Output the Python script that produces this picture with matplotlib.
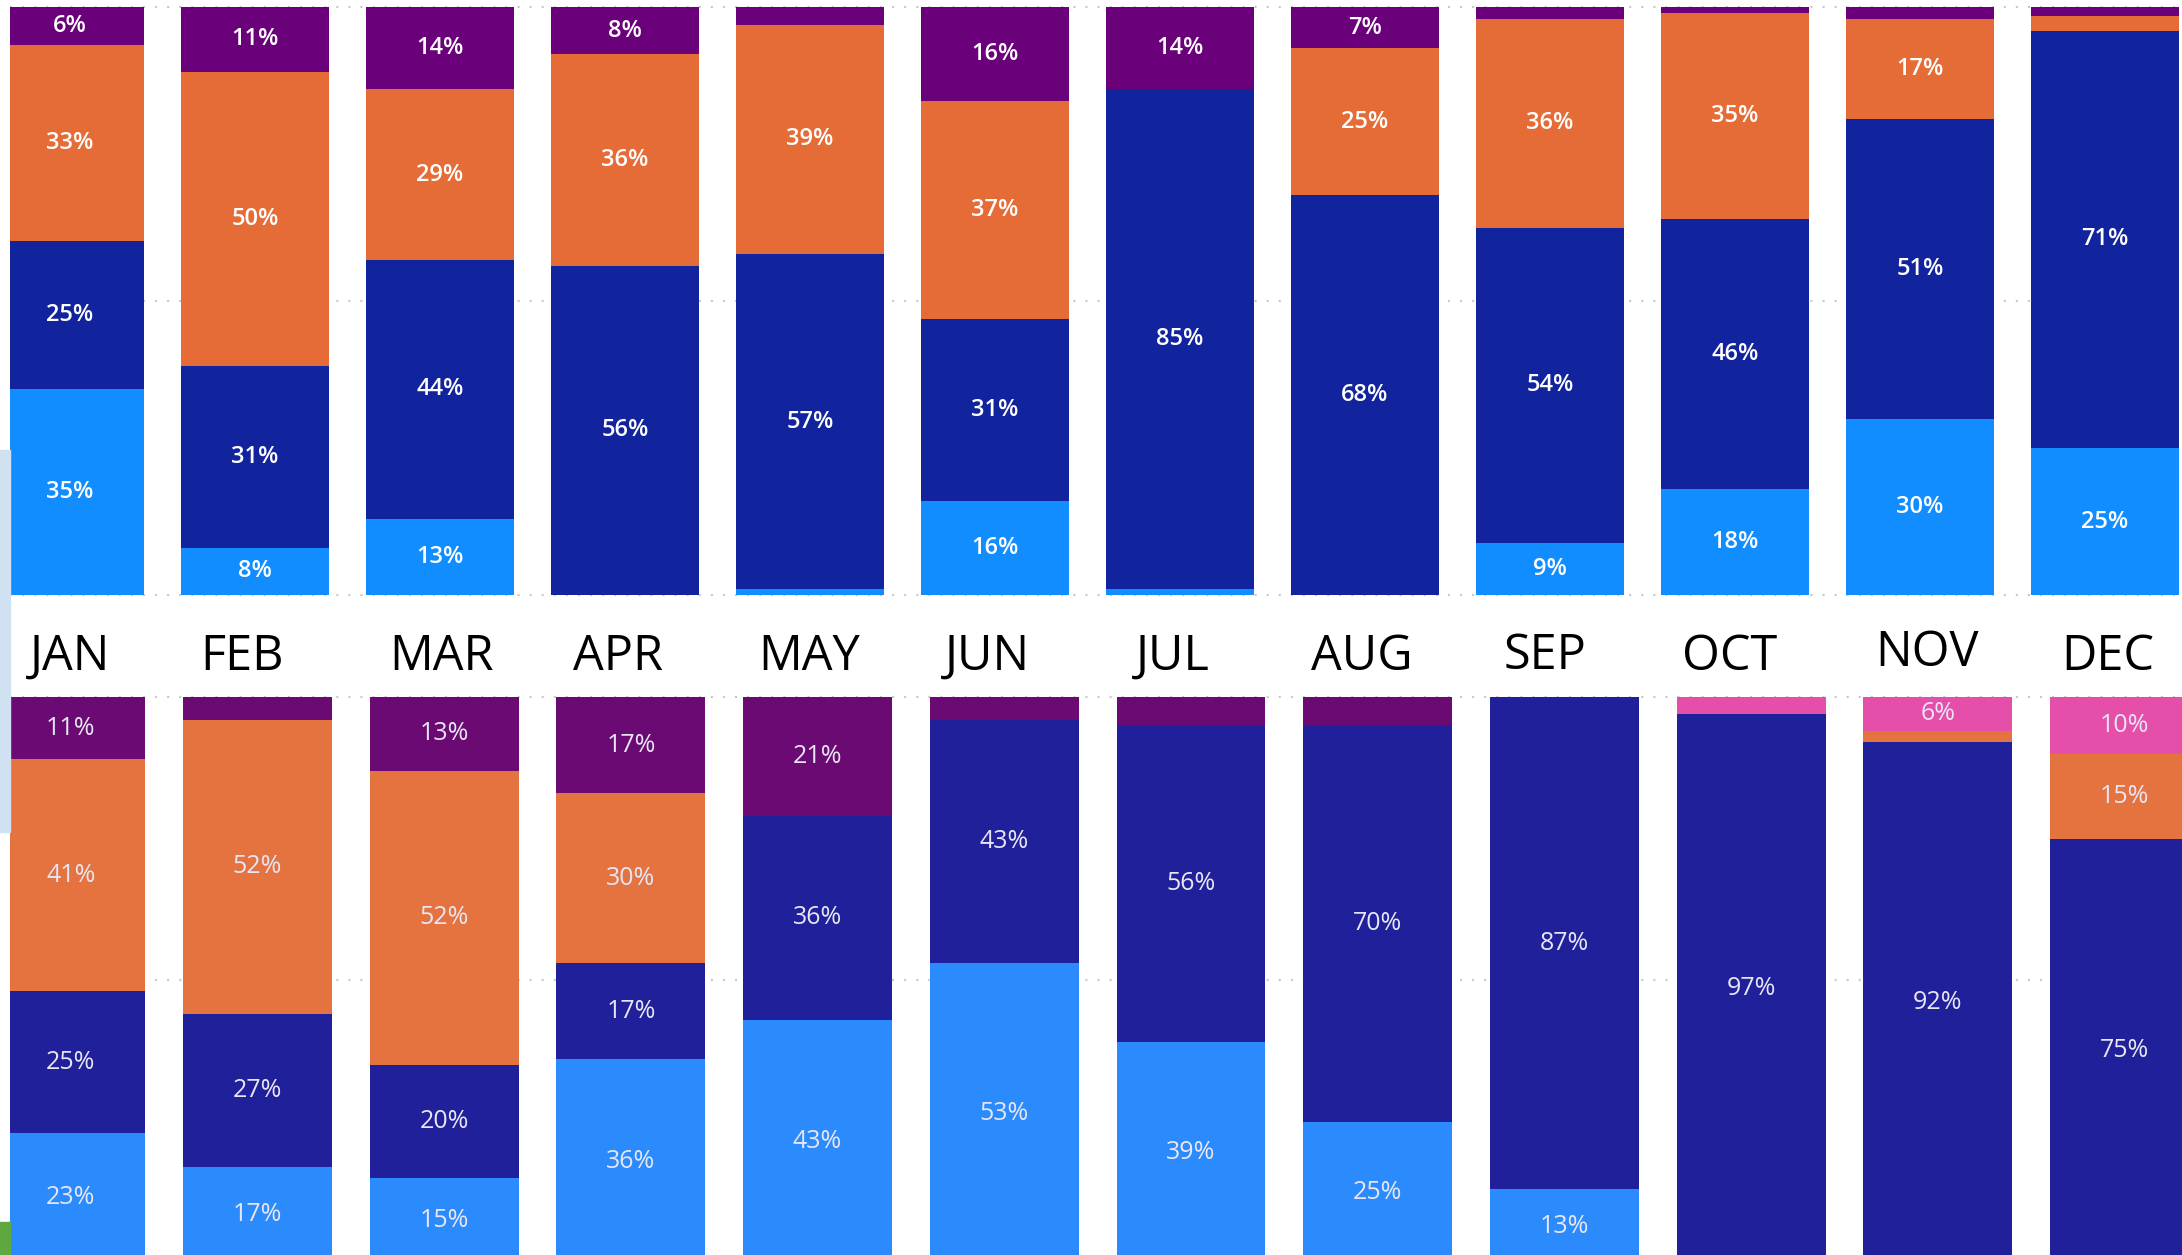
import matplotlib
matplotlib.use('Agg')
import matplotlib.pyplot as plt
import numpy as np
from matplotlib.patches import Rectangle
from matplotlib.transforms import blended_transform_factory, offset_copy

plt.rcParams['font.family'] = ['Open Sans', 'DejaVu Sans']

months = ['JAN', 'FEB', 'MAR', 'APR', 'MAY', 'JUN', 'JUL', 'AUG', 'SEP', 'OCT', 'NOV', 'DEC']

# Top panel (bottom -> top): light blue, dark blue, orange, purple
top_light = [35, 8, 13, 0, 1, 16, 1, 0, 9, 18, 30, 25]
top_dark = [25.2, 31, 44, 56, 57, 31, 85, 68, 54, 46, 51, 71]
top_orange = [33.4, 50, 29, 36, 39, 37, 0, 25, 36, 35, 17, 2.5]
top_purple = [6.4, 11, 14, 8, 3, 16, 14, 7, 2, 1, 2, 1.5]

# Bottom panel (bottom -> top): light blue, dark blue, orange, purple, pink
bot_light = [23, 17, 15, 36, 43, 53, 39, 25, 13, 0, 0, 0]
bot_dark = [25, 27, 20, 17, 36, 43, 56, 70, 87, 97, 92, 75]
bot_orange = [41, 52, 52, 30, 0, 0, 0, 0, 0, 0, 2, 15]
bot_purple = [11, 4, 13, 17, 21, 4, 5, 5, 0, 0, 0, 0]
bot_pink = [0, 0, 0, 0, 0, 0, 0, 0, 0, 3, 6, 10]

top_colors = ['#118DFF', '#12239E', '#E66C37', '#6B007B']
bot_colors = ['#2B8BFD', '#1F209A', '#E47340', '#6B0A73', '#E64FA9']

# small layout nudges of the month text boxes (pixels)
month_dx_px = [0, -13, 1, -7, -1, -8, -7, -3, -5, -5, 7, 3]
month_dy_px = [0, 0, 0, 0, 0, 0, 0, 0, 1, 0, 4, 0]

W, H = 2182, 1255
fig = plt.figure(figsize=(W / 100, H / 100), dpi=100)
fig.patch.set_facecolor('white')


def px_axes(x0, y0, x1, y1):
    return fig.add_axes([x0 / W, 1 - y1 / H, (x1 - x0) / W, (y1 - y0) / H])


def draw(ax, series, colors, width, xlim, txtcolor, weight, size):
    data = np.array(series, dtype=float)
    pct = data / data.sum(axis=0) * 100
    x = np.arange(len(months))
    bottom = np.zeros(len(months))
    for vals, raw, c in zip(pct, data, colors):
        ax.bar(x, vals, width, bottom=bottom, color=c, edgecolor='none', zorder=2)
        for xi, b, v, r in zip(x, bottom, vals, raw):
            if r >= 6:
                ax.text(xi, b + v / 2, f'{int(round(r))}%', ha='center', va='center',
                        color=txtcolor, fontsize=size, fontweight=weight, zorder=3)
        bottom += vals
    for y in (0, 50, 100):
        ax.axhline(y, color='#c8c8c8', lw=1.5, ls=(0, (1, 4.8)), zorder=1, clip_on=False)
    ax.set_xlim(*xlim)
    ax.set_ylim(0, 100)
    ax.set_facecolor('none')
    for s in ax.spines.values():
        s.set_visible(False)
    ax.set_xticks([])
    ax.set_yticks([])


ax_top = px_axes(10, 7, 2182, 595)
draw(ax_top, [top_light, top_dark, top_orange, top_purple], top_colors, 0.8,
     (-0.3243, 11.416), 'white', 'semibold', 17)

ax_bot = px_axes(10, 697, 2182, 1263)
draw(ax_bot, [bot_light, bot_dark, bot_orange, bot_purple, bot_pink], bot_colors, 0.798,
     (-0.3257, 11.308), '#E8E6F4', 'normal', 18)

# Month labels between the panels
tr = blended_transform_factory(ax_top.transData, fig.transFigure)
for i, m in enumerate(months):
    t = offset_copy(tr, fig=fig, x=month_dx_px[i], y=month_dy_px[i], units='dots')
    fig.text(i, 1 - 670 / H, m, transform=t, ha='center', va='baseline',
             fontsize=35, color='black')

# Screenshot edge artifacts
fig.patches.append(Rectangle((0, 1 - 832 / H), 10 / W, (832 - 450) / H,
                             transform=fig.transFigure, color='#D0E1F1', zorder=0))
fig.patches.append(Rectangle((0, 0), 10 / W, (H - 1222) / H,
                             transform=fig.transFigure, color='#5FA840', zorder=0))

fig.savefig('out.png', dpi=100, facecolor='white')
